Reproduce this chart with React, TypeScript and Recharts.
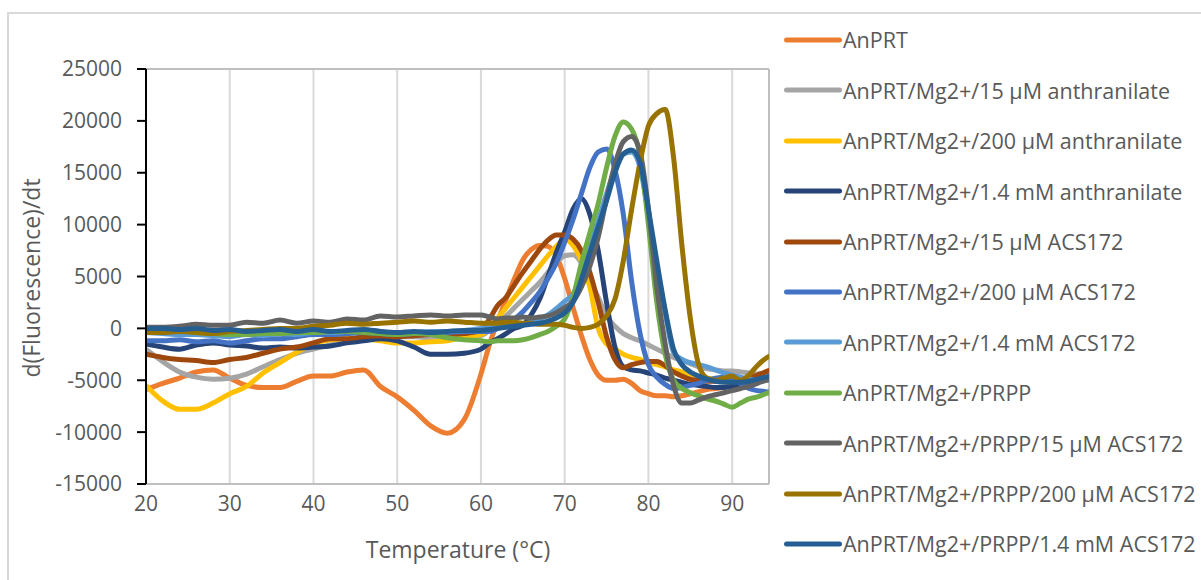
import React from 'react';
import { LineChart, Line, XAxis, YAxis, CartesianGrid, Legend, ReferenceLine } from 'recharts';

// temperature (°C)
const temps = [
  20, 22, 24, 26, 28, 30, 32, 34, 36, 38, 40, 42, 44, 46, 48, 50, 52, 54, 56, 58, 60,
  61, 62, 63, 64, 65, 66, 67, 68, 69, 70, 71, 72, 73, 74, 75, 76, 77, 78, 79, 80,
  81, 82, 83, 84, 85, 86, 87, 88, 89, 90, 91, 92, 93, 94, 95,
];

const anprt = [
  -5900, -5300, -4800, -4200, -4000, -4800, -5500, -5700, -5700, -5100, -4600, -4600, -4200, -4000, -5600, -6600, -7900, -9400, -10100, -8800, -4400,
  -1600, 700, 2800, 4800, 6600, 7600, 8000, 7900, 7000, 4800, 2000, -700, -3000, -4500, -5000, -5000, -4900, -5300, -6000, -6300,
  -6500, -6500, -6600, -6500, -6300, -6100, -5900, -5800, -5700, -5500, -5300, -5000, -4700, -4200, -3900,
];
const anth15 = [
  -2000, -3200, -4200, -4700, -4900, -4800, -4400, -3700, -3000, -2400, -2000, -1600, -1300, -1100, -900, -800, -800, -900, -900, -800, -700,
  -200, 500, 1200, 2000, 2800, 3600, 4400, 5400, 6300, 7000, 7100, 6300, 4600, 3000, 1200, 200, -500, -900, -1200, -1600,
  -2000, -2400, -2800, -3100, -3400, -3700, -3900, -4000, -4100, -4100, -4200, -4300, -4400, -4300, -4100,
];
const anth200 = [
  -5500, -7000, -7800, -7800, -7200, -6300, -5600, -4300, -3300, -2300, -1500, -1100, -1000, -1000, -1200, -1400, -1400, -1300, -1200, -800, -600,
  0, 1000, 2000, 3000, 4000, 5000, 6000, 7000, 7900, 8600, 8000, 6500, 4000, 0, -1500, -2000, -2500, -2800, -3000, -3300,
  -3500, -3700, -4000, -4200, -4400, -4600, -4800, -4900, -5000, -5000, -5000, -5000, -4900, -4700, -4500,
];
const anth1400 = [
  -1500, -1800, -2000, -1600, -1400, -1600, -1700, -1900, -1800, -1900, -1800, -1700, -1400, -1200, -1000, -1200, -1800, -2500, -2500, -2400, -2000,
  -1400, -1000, -500, 0, 300, 1300, 2800, 5000, 7300, 9300, 11500, 12500, 11000, 7500, 2500, -1800, -3700, -4000, -4100, -4300,
  -4500, -4800, -5000, -5200, -5400, -5500, -5600, -5700, -5700, -5600, -5500, -5400, -5100, -4800, -4500,
];
const acs15 = [
  -2500, -2800, -3000, -3100, -3300, -3000, -2800, -2400, -2000, -1800, -1400, -1000, -1000, -800, -700, -800, -700, -600, -600, -500, -200,
  900, 2200, 3000, 4200, 5400, 6500, 7600, 8500, 9000, 9000, 8600, 7500, 5400, 2500, -800, -3000, -3800, -3500, -3300, -3200,
  -3200, -3600, -4200, -4600, -4900, -5000, -5100, -5100, -5100, -5000, -4900, -4800, -4500, -4200, -3900,
];
const acs200 = [
  -1200, -1200, -1100, -1300, -1200, -1400, -1200, -1000, -1000, -800, -600, -600, -500, -400, -500, -600, -500, -500, -400, -300, -300,
  -300, 0, 400, 900, 1600, 2500, 3500, 4800, 6300, 8300, 10500, 13000, 15500, 17000, 17300, 15300, 11000, 4500, -500, -3500,
  -4700, -5400, -5800, -5700, -5500, -5300, -5000, -4800, -4700, -4800, -5300, -5800, -6000, -6100, -6200,
];
const acs1400 = [
  -400, -500, -600, -600, -700, -800, -600, -700, -500, -600, -400, -400, -300, -200, -300, -500, -400, -300, -300, -200, 0,
  100, 200, 200, 300, 400, 600, 900, 1300, 1900, 2600, 3300, 5200, 7800, 10300, 13000, 15300, 16800, 17000, 15500, 11000,
  6000, 1500, -2300, -3000, -3300, -3500, -3700, -4000, -4300, -4500, -4700, -4900, -5000, -5000, -5000,
];
const prpp = [
  0, -100, -200, -400, -500, -600, -600, -500, -500, -400, -400, -300, -300, -400, -500, -600, -500, -600, -900, -1100, -1200,
  -1300, -1200, -1200, -1200, -1100, -900, -600, -300, 200, 900, 3000, 6300, 9200, 12000, 15500, 18500, 19900, 19200, 16600, 10000,
  2500, -2500, -5000, -5800, -6200, -6500, -6800, -7000, -7300, -7600, -7200, -6800, -6600, -6300, -6000,
];
const prppAcs15 = [
  100, 100, 200, 400, 300, 300, 600, 500, 800, 500, 700, 600, 900, 800, 1200, 1100, 1200, 1300, 1200, 1300, 1300,
  1100, 900, 1000, 1000, 1100, 1000, 1100, 1200, 1500, 2000, 2600, 4000, 6000, 8800, 12500, 15800, 18000, 18500, 17000, 11500,
  4000, -1500, -5500, -7200, -7200, -6900, -6600, -6400, -6200, -6000, -5800, -5600, -5300, -5000, -4800,
];
const prppAcs200 = [
  -400, -400, -300, -400, -500, -300, -200, -100, 0, 0, 200, 300, 500, 400, 500, 600, 700, 600, 700, 600, 500,
  500, 500, 600, 600, 500, 500, 400, 400, 400, 300, 100, 0, 100, 400, 1200, 2800, 6500, 11500, 16000, 19500,
  20700, 21100, 16500, 8000, 1000, -3500, -4800, -5000, -4800, -4600, -5000, -4500, -3600, -2900, -2500,
];
const prppAcs1400 = [
  0, 0, -100, 0, -200, -100, -300, -200, -100, -300, -100, -300, -200, -100, -300, -400, -300, -400, -300, -200, -200,
  -100, 0, 100, 200, 300, 400, 500, 700, 1000, 1500, 2500, 4700, 7300, 9800, 12300, 15000, 16800, 17200, 16000, 11500,
  6500, 1800, -2000, -3500, -4200, -4600, -4900, -5100, -5200, -5200, -5200, -5100, -4900, -4700, -4500,
];

const xTicks = [20, 30, 40, 50, 60, 70, 80, 90];
const yTicks = [-15000, -10000, -5000, 0, 5000, 10000, 15000, 20000, 25000];

const SERIES = [
  { key: 'anprt', name: 'AnPRT', color: '#ED7D31', values: anprt },
  { key: 'anth15', name: 'AnPRT/Mg2+/15 µM anthranilate', color: '#A5A5A5', values: anth15 },
  { key: 'anth200', name: 'AnPRT/Mg2+/200 µM anthranilate', color: '#FFC000', values: anth200 },
  { key: 'anth1400', name: 'AnPRT/Mg2+/1.4 mM anthranilate', color: '#264478', values: anth1400 },
  { key: 'acs15', name: 'AnPRT/Mg2+/15 µM ACS172', color: '#9E480E', values: acs15 },
  { key: 'acs200', name: 'AnPRT/Mg2+/200 µM ACS172', color: '#4472C4', values: acs200 },
  { key: 'acs1400', name: 'AnPRT/Mg2+/1.4 mM ACS172', color: '#5B9BD5', values: acs1400 },
  { key: 'prpp', name: 'AnPRT/Mg2+/PRPP', color: '#70AD47', values: prpp },
  { key: 'prppAcs15', name: 'AnPRT/Mg2+/PRPP/15 µM ACS172', color: '#636363', values: prppAcs15 },
  { key: 'prppAcs200', name: 'AnPRT/Mg2+/PRPP/200 µM ACS172', color: '#997300', values: prppAcs200 },
  { key: 'prppAcs1400', name: 'AnPRT/Mg2+/PRPP/1.4 mM ACS172', color: '#255E91', values: prppAcs1400 },
];

const data = temps.map((t, i) => {
  const row: Record<string, number> = { t };
  SERIES.forEach((s) => {
    row[s.key] = s.values[i];
  });
  return row;
});

const FONT = '"Open Sans", sans-serif';
const TEXT = '#595959';

function renderLegend() {
  return (
    <div style={{ fontFamily: FONT, fontSize: 21.5, color: TEXT }}>
      {SERIES.map((s) => (
        <div key={s.key} style={{ height: 50.4, display: 'flex', alignItems: 'center', whiteSpace: 'nowrap' }}>
          <svg width={61} height={8} style={{ flex: 'none' }}>
            <line x1={4.5} y1={4} x2={57.5} y2={4} stroke={s.color} strokeWidth={5} strokeLinecap="round" />
          </svg>
          <span>{s.name}</span>
        </div>
      ))}
    </div>
  );
}

export default function App() {
  return (
    <div style={{ position: 'absolute', left: 0, top: 0, width: 1201, height: 580, background: '#fff', overflow: 'hidden' }}>
      <div
        style={{
          position: 'absolute', left: 7, top: 12, width: 1300, height: 700,
          borderTop: '2px solid #d9d9d9', borderLeft: '2px solid #d9d9d9',
        }}
      />
      <LineChart width={1201} height={580} data={data} margin={{ top: 69, right: 432, bottom: 0, left: 0 }}>
        <CartesianGrid horizontal={false} stroke="#d9d9d9" strokeWidth={2} />
        <ReferenceLine y={25000} stroke="#bfbfbf" strokeWidth={2} />
        <ReferenceLine x={94.4} stroke="#bfbfbf" strokeWidth={2} />
        <XAxis
          dataKey="t"
          type="number"
          domain={[20, 94.4]}
          ticks={xTicks}
          allowDataOverflow
          height={96}
          axisLine={{ stroke: '#bfbfbf', strokeWidth: 2 }}
          tickLine={false}
          tickSize={0}
          tickMargin={12}
          tick={{ fill: TEXT, fontSize: 21, fontFamily: FONT }}
          label={{
            content: () => (
              <text x={458} y={558} textAnchor="middle" fill={TEXT} fontSize={23} fontFamily={FONT}>
                Temperature (°C)
              </text>
            ),
          }}
        />
        <YAxis
          type="number"
          domain={[-15000, 25000]}
          ticks={yTicks}
          allowDataOverflow
          width={146}
          axisLine={{ stroke: '#000', strokeWidth: 2 }}
          tickLine={{ stroke: '#000', strokeWidth: 2 }}
          tickSize={9}
          tickMargin={15}
          tick={{ fill: TEXT, fontSize: 21, fontFamily: FONT }}
          label={{
            content: () => (
              <text
                x={39.5}
                y={278}
                transform="rotate(-90, 39.5, 278)"
                textAnchor="middle"
                fill={TEXT}
                fontSize={23}
                fontFamily={FONT}
              >
                d(Fluorescence)/dt
              </text>
            ),
          }}
        />
        <Legend
          layout="vertical"
          align="center"
          verticalAlign="middle"
          content={renderLegend}
          wrapperStyle={{ left: 782, top: 14.8, width: 419 }}
        />
        {SERIES.map((s) => (
          <Line
            key={s.key}
            type="monotone"
            dataKey={s.key}
            name={s.name}
            stroke={s.color}
            strokeWidth={5}
            strokeLinejoin="round"
            dot={false}
            activeDot={false}
            isAnimationActive={false}
          />
        ))}
      </LineChart>
    </div>
  );
}
